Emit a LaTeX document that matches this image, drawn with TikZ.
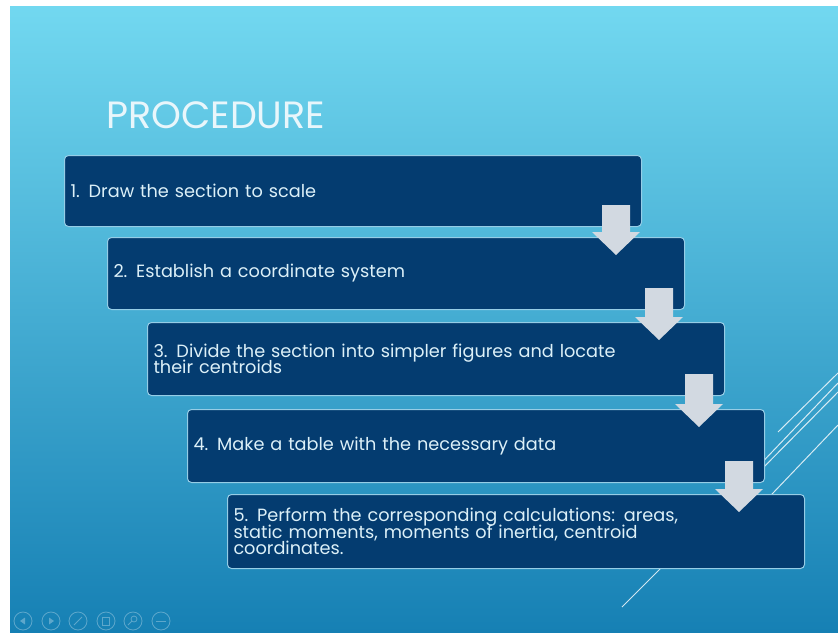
\documentclass[tikz,border=0pt]{standalone}
\usepackage{fontspec}
\setmainfont{Poppins}
\usetikzlibrary{calc}

\definecolor{slidetop}{RGB}{114,216,240}
\definecolor{slidebottom}{RGB}{22,128,180}
\definecolor{boxnavy}{RGB}{4,60,112}
\definecolor{boxedge}{RGB}{150,205,230}
\definecolor{arrowgray}{RGB}{210,217,225}
\definecolor{titlewhite}{RGB}{232,246,251}

\newcommand{\boxfont}{\fontsize{17.7}{16.5}\selectfont\setlength{\lineskiplimit}{-20pt}}

\tikzset{
  stepbox/.style={draw=boxedge, line width=1pt, fill=boxnavy, rounded corners=4pt,
    anchor=north west, minimum width=577pt, minimum height=72pt,
    text width=565pt, inner xsep=6pt, align=left, text=titlewhite!85!boxedge,
    font=\boxfont},
  arrowfill/.style={fill=arrowgray},
  deco/.style={draw=white, line width=1pt, opacity=0.8},
  navicon/.style={draw=white, line width=0.8pt, opacity=0.3}
}

\newcommand{\steparrow}[2]{%
  \fill[arrowfill] let \p1=(#1.south east), \p2=(#2.north) in
    (\x1-40pt,\y1+22pt) -- (\x1-12pt,\y1+22pt) -- (\x1-12pt,\y2+5pt) -- (\x1-2pt,\y2+5pt)
    -- (\x1-26pt,\y2-18pt) -- (\x1-50pt,\y2+5pt) -- (\x1-40pt,\y2+5pt) -- cycle;}

\begin{document}
\begin{tikzpicture}[x=1pt, y=-1pt]
  \useasboundingbox (0,0) rectangle (838,632);
  \fill[white] (0,0) rectangle (838,632);
  \shade[top color=slidetop, bottom color=slidebottom] (10,6) rectangle (838,632);

  \draw[deco] (778,432) -- (838,373);
  \draw[deco] (750,475) -- (838,383);
  \draw[deco] (752,479) -- (838,392);
  \draw[deco] (709,560) -- (838,425);
  \draw[deco] (622,607) -- (690,539);

  \node[anchor=base west, inner sep=0pt, text=titlewhite, font=\fontsize{38}{42}\selectfont]
    (title) at (106,128) {PROCEDURE};

  \node[stepbox, minimum height=71pt] (s1) at (64,155) {1. Draw the section to scale};
  \node[stepbox] (s2) at (107,237) {2. Establish a coordinate system};
  \node[stepbox, minimum height=73pt] (s3) at (147,322)
    {3. Divide the section into simpler figures and locate\\their centroids};
  \node[stepbox, minimum height=73pt] (s4) at (187,409) {4. Make a table with the necessary data};
  \node[stepbox, minimum height=74pt] (s5) at (227,494)
    {5. Perform the corresponding calculations: areas,\\static moments, moments of inertia, centroid\\coordinates.};

  \steparrow{s1}{s2}
  \steparrow{s2}{s3}
  \steparrow{s3}{s4}
  \steparrow{s4}{s5}

  \foreach \x in {23,51,78,106,133,161} {
    \draw[navicon] (\x,621) circle [radius=9];
  }
  \fill[white, opacity=0.3] (20,621) -- (25,617.5) -- (25,624.5) -- cycle;
  \fill[white, opacity=0.3] (54,621) -- (49,617.5) -- (49,624.5) -- cycle;
  \draw[navicon] (74,625) -- (82,617);
  \draw[navicon] (102,617) rectangle (109,625);
  \draw[navicon] (134,619) circle [radius=3] (131.8,621.2) -- (128,625);
  \draw[navicon] (156,621) -- (166,621);
\end{tikzpicture}
\end{document}
